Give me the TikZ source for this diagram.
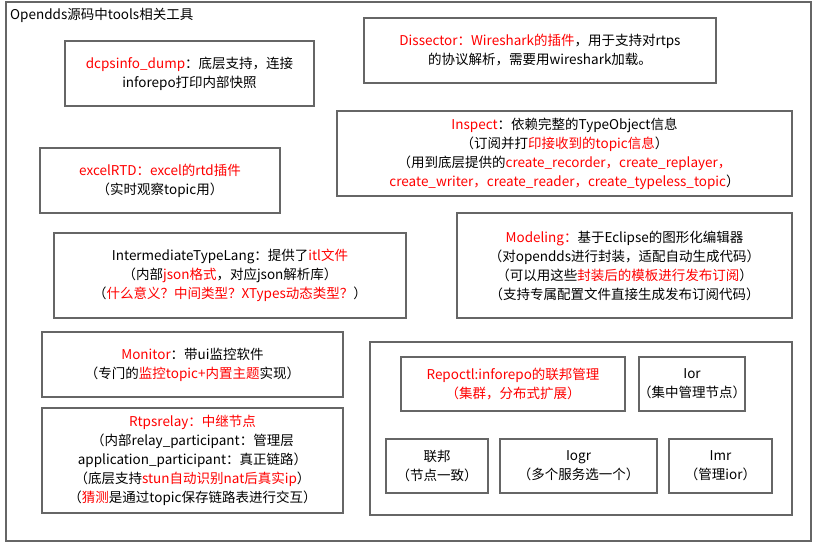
\documentclass[tikz,border=0pt]{standalone}
\usepackage{xcolor}
\usepackage{fontspec}
\setmainfont{Noto Sans CJK SC}
\usepackage{tikz}
\newcommand{\rd}[1]{\textcolor{red}{#1}}

\begin{document}
\begin{tikzpicture}[x=1pt,y=-1pt,
  box/.style={draw=black!60,line width=1.2pt},
  txt/.style={align=center,font=\fontsize{13.5}{19}\selectfont,inner sep=0pt}]

\useasboundingbox (0,0) rectangle (813,544);
\draw[box] (6,2) rectangle (811,541);
\node[txt,anchor=west] (title) at (10,15) {Opendds源码中tools相关工具};

% boxes
\draw[box] (65,41) rectangle (314,106);
\node[txt] (dump) at (189.5,73.5) {\rd{dcpsinfo\_dump}：底层支持，连接\\inforepo打印内部快照};

\draw[box] (364,18) rectangle (716,83);
\node[txt] (dissector) at (540,50.5) {\rd{Dissector：Wireshark的插件}，用于支持对rtps\\的协议解析，需要用wireshark加载。};

\draw[box] (337,111) rectangle (792,196);
\node[txt] (inspect) at (564.5,153.5) {\rd{Inspect}：依赖完整的TypeObject信息\\（订阅并打\rd{印接收到的topic信息}）\\（用到底层提供的\rd{create\_recorder，create\_replayer，}\\\rd{create\_writer，create\_reader，create\_typeless\_topic}）};

\draw[box] (40,148) rectangle (280,213);
\node[txt] (excel) at (160,180.5) {\rd{excelRTD：excel的rtd插件}\\（实时观察topic用）};

\draw[box] (54,233) rectangle (406,318);
\node[txt] (itl) at (230,275.5) {IntermediateTypeLang：提供了\rd{itl文件}\\（内部\rd{json格式}，对应json解析库）\\（\rd{什么意义？中间类型？XTypes动态类型？}）};

\draw[box] (457,213) rectangle (792,318);
\node[txt] (modeling) at (624.5,265.5) {\rd{Modeling：}基于Eclipse的图形化编辑器\\（对opendds进行封装，适配自动生成代码）\\（可以用这些\rd{封装后的模板进行发布订阅}）\\（支持专属配置文件直接生成发布订阅代码）};

\draw[box] (42,332) rectangle (343,397);
\node[txt] (monitor) at (192.5,364.5) {\rd{Monitor}：带ui监控软件\\（专门的\rd{监控topic+内置主题}实现）};

\draw[box] (42,408) rectangle (343,513);
\node[txt] (relay) at (192.5,460.5) {\rd{Rtpsrelay：中继节点}\\（内部relay\_participant：管理层\\application\_participant：真正链路）\\（底层支持\rd{stun自动识别nat后真实ip}）\\（\rd{猜测}是通过topic保存链路表进行交互）};

% repo group
\draw[box] (370,342) rectangle (792,515);
\draw[box] (401,357) rectangle (625,411);
\node[txt] (repoctl) at (513,384) {\rd{Repoctl:inforepo的联邦管理}\\\rd{（集群，分布式扩展）}};
\draw[box] (639,357) rectangle (745,411);
\node[txt] (ior) at (692,384) {Ior\\（集中管理节点）};
\draw[box] (386,439) rectangle (488,493);
\node[txt] (fed) at (437,466) {联邦\\（节点一致）};
\draw[box] (500,439) rectangle (657,493);
\node[txt] (iogr) at (578.5,466) {Iogr\\（多个服务选一个）};
\draw[box] (669,439) rectangle (772,493);
\node[txt] (imr) at (720.5,466) {Imr\\（管理ior）};

\end{tikzpicture}
\end{document}
